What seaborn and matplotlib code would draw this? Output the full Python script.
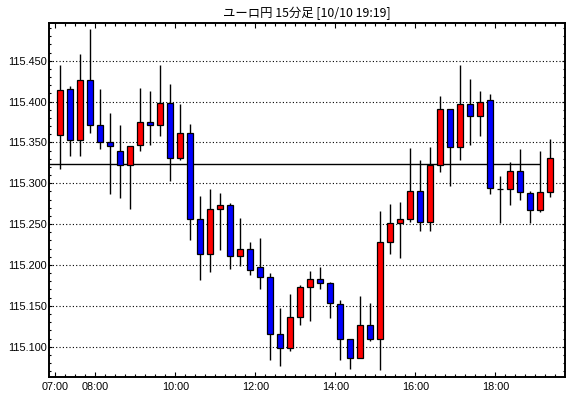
import numpy as np
import pandas as pd
import matplotlib
matplotlib.use("Agg")
import matplotlib.pyplot as plt
from matplotlib.ticker import MultipleLocator, FixedLocator, FormatStrFormatter
import seaborn as sns

# ---------------- data (EUR/JPY 15-minute candles from 07:00) ----------------
title = "ユーロ円 15分足 [10/10 19:19]"
start_time = "07:00"
interval_min = 15

opens = [115.359, 115.415, 115.353, 115.426, 115.371, 115.350, 115.340, 115.322, 115.347, 115.375,
         115.371, 115.398, 115.331, 115.362, 115.256, 115.213, 115.268, 115.274, 115.211, 115.219,
         115.198, 115.185, 115.115, 115.099, 115.136, 115.173, 115.183, 115.178, 115.152, 115.110,
         115.086, 115.127, 115.109, 115.228, 115.251, 115.256, 115.291, 115.253, 115.322, 115.391,
         115.344, 115.397, 115.382, 115.402, 115.293, 115.293, 115.315, 115.288, 115.267, 115.289]
highs = [115.445, 115.419, 115.458, 115.489, 115.415, 115.386, 115.371, 115.345, 115.417, 115.413,
         115.445, 115.422, 115.397, 115.373, 115.284, 115.293, 115.288, 115.276, 115.257, 115.228,
         115.233, 115.190, 115.147, 115.165, 115.176, 115.193, 115.198, 115.179, 115.157, 115.110,
         115.162, 115.153, 115.266, 115.275, 115.277, 115.343, 115.329, 115.344, 115.407, 115.391,
         115.445, 115.428, 115.413, 115.409, 115.309, 115.326, 115.342, 115.291, 115.339, 115.354]
lows = [115.318, 115.333, 115.333, 115.361, 115.342, 115.287, 115.282, 115.268, 115.339, 115.347,
        115.358, 115.303, 115.329, 115.230, 115.181, 115.191, 115.218, 115.195, 115.199, 115.188,
        115.171, 115.084, 115.076, 115.095, 115.127, 115.131, 115.170, 115.135, 115.084, 115.073,
        115.086, 115.107, 115.071, 115.214, 115.209, 115.253, 115.241, 115.241, 115.314, 115.297,
        115.329, 115.347, 115.358, 115.287, 115.251, 115.273, 115.279, 115.251, 115.265, 115.283]
closes = [115.414, 115.353, 115.426, 115.371, 115.350, 115.345, 115.322, 115.345, 115.375, 115.371,
          115.398, 115.331, 115.362, 115.256, 115.213, 115.268, 115.274, 115.211, 115.219, 115.194,
          115.185, 115.115, 115.099, 115.136, 115.173, 115.183, 115.178, 115.153, 115.110, 115.086,
          115.127, 115.109, 115.228, 115.251, 115.256, 115.291, 115.253, 115.322, 115.391, 115.344,
          115.397, 115.382, 115.399, 115.294, 115.293, 115.315, 115.289, 115.267, 115.289, 115.331]

ref_price = 115.324
ref_end_index = 48.47          # the reference line stops just before the last candle
tick_labels = ["07:00", "08:00", "10:00", "12:00", "14:00", "16:00", "18:00"]
y_range = (115.0629, 115.4965)

# ---------------- build table ----------------
df = pd.DataFrame({"open": opens, "high": highs, "low": lows, "close": closes})
df["slot"] = np.arange(len(df)) + 0.5          # candle centred in its 15-min slot
df["bottom"] = df[["open", "close"]].min(axis=1)
df["height"] = (df["close"] - df["open"]).abs()
df["color"] = np.where(df["close"] > df["open"], "#ff0000",
                       np.where(df["close"] < df["open"], "#0000ff", "#000000"))

def slot_of(label):
    h, m = map(int, label.split(":"))
    h0, m0 = map(int, start_time.split(":"))
    return ((h * 60 + m) - (h0 * 60 + m0)) / interval_min

# ---------------- figure ----------------
sns.set_theme(style="white")
plt.rcParams["font.family"] = ["Liberation Sans", "DejaVu Sans"]

W, H = 570, 398
fig = plt.figure(figsize=(W / 100, H / 100), dpi=100, facecolor="white")
L, R, T, B = 49.3, 565.0, 22.7, 377.0
ax = fig.add_axes([L / W, 1 - B / H, (R - L) / W, (B - T) / H])
ax.set_facecolor("white")

# grid (dotted, at every 0.05)
ax.yaxis.set_major_locator(MultipleLocator(0.05))
ax.yaxis.set_minor_locator(MultipleLocator(0.01))
ax.yaxis.set_major_formatter(FormatStrFormatter("%.3f"))
ax.grid(axis="y", which="major", color="black", linestyle=(0, (1, 2)), linewidth=0.8)
ax.grid(axis="x", visible=False)
ax.set_axisbelow(True)

# reference line
ax.hlines(ref_price, -1, ref_end_index, color="black", linewidth=1.0, zorder=1.5)

# wicks and bodies
ax.vlines(df["slot"], df["low"], df["high"], color="black", linewidth=1.0, zorder=2)
ax.bar(df["slot"], df["height"], bottom=df["bottom"], width=0.62,
       color=df["color"], edgecolor="black", linewidth=0.9, zorder=3)

# axes limits
x_left = (L - 55.3) / 10.0
x_right = (R - 55.3) / 10.0
ax.set_xlim(x_left, x_right)
ax.set_ylim(*y_range)

# x ticks
ax.xaxis.set_major_locator(FixedLocator([slot_of(t) for t in tick_labels]))
ax.set_xticklabels(tick_labels)
ax.xaxis.set_minor_locator(MultipleLocator(1))

ax.tick_params(axis="both", which="both", direction="in", top=True, right=True,
               bottom=True, left=True, color="black", width=0.8,
               labelsize=7.8, labelcolor="black")
ax.tick_params(axis="y", which="major", length=2.2, pad=1.8)
ax.tick_params(axis="y", which="minor", length=1.7)
ax.tick_params(axis="x", which="major", length=3.8, pad=3.4)
ax.tick_params(axis="x", which="minor", length=2.4)

for s in ax.spines.values():
    s.set_visible(True)
    s.set_color("black")
    s.set_linewidth(1.4)

fig.text((L + R) / 2 / W, 1 - 13.5 / H, title, ha="center", va="center",
         fontsize=8.9, color="black", family=["Noto Sans CJK JP", "DejaVu Sans"])

fig.savefig("out.png", dpi=100, facecolor="white")
